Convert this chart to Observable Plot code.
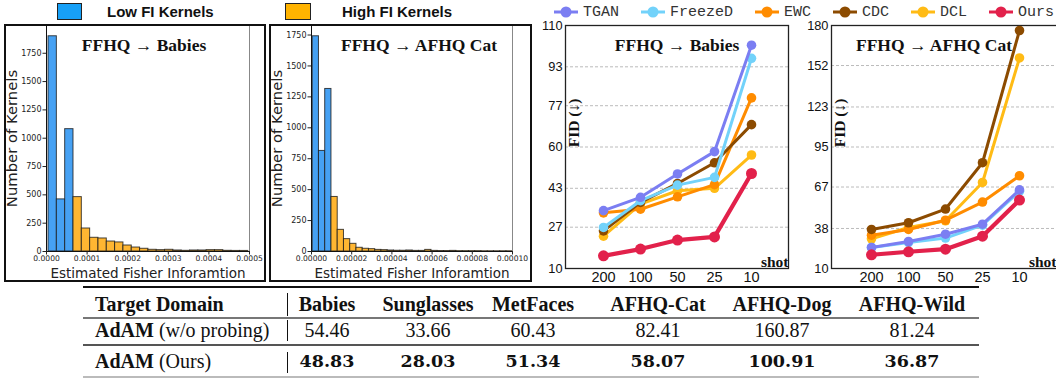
<!DOCTYPE html>
<html><head><meta charset="utf-8">
<script src="https://cdn.jsdelivr.net/npm/d3@7"></script>
<script src="https://cdn.jsdelivr.net/npm/@observablehq/plot@0.6"></script>
<style>
html,body{margin:0;padding:0;background:#fff;}
#root{position:relative;width:1056px;height:378px;overflow:hidden;background:#fff;}
#root svg{display:block;overflow:visible;}
.box{position:absolute;border:2px solid #111;box-sizing:border-box;pointer-events:none;}
.hleg{position:absolute;font-family:"Liberation Sans",Arial,sans-serif;font-weight:bold;font-size:15px;color:#111;line-height:18px;white-space:nowrap;}
.hbox{position:absolute;border:1.5px solid #222;box-sizing:border-box;}
.leg{position:absolute;display:flex;align-items:center;font-family:"Liberation Mono",monospace;font-size:15px;color:#333;white-space:nowrap;}
.leg .it{display:flex;align-items:center;margin-right:20px;}
.leg svg{margin-right:3px;}
.cell{position:absolute;white-space:nowrap;font-family:"Liberation Serif","Times New Roman",serif;font-size:20px;color:#111;transform:translate(-50%,-50%);line-height:22px;}
.lcell{transform:translate(0,-50%);}
.b{font-weight:bold;}
.num2{font-family:"DejaVu Serif",serif;font-weight:bold;font-size:17.5px;}
.rule{position:absolute;}
</style></head><body><div id="root"></div>
<script>
// ---------------- data ----------------
// Histogram 1: FFHQ -> Babies
const hist1Counts = [1900, 460, 1080, 480, 203, 121, 115, 88, 80, 53, 35, 24, 15, 12, 15, 9, 6, 9, 9, 12, 12, 6, 5, 5];
const hist1Start = 0.000005;
const hist1BinWidth = 0.0000205;
const hist1LowBins = 3;
const hist1XTicks = [0, 0.0001, 0.0002, 0.0003, 0.0004, 0.0005];
// Histogram 2: FFHQ -> AFHQ Cat
const hist2Counts = [1740, 813, 1314, 441, 175, 100, 62, 30, 22, 19, 13, 11, 8, 6, 6, 8, 5, 5, 13, 5, 4, 4, 5, 3, 3, 3, 3, 2, 2, 2, 2, 2];
const hist2Start = 0.0000006;
const hist2BinWidth = 0.00000311;
const hist2LowBins = 3;
const hist2XTicks = [0, 0.00002, 0.00004, 0.00006, 0.00008, 0.0001];
const histYTicks = [0, 250, 500, 750, 1000, 1250, 1500, 1750];

// Line charts
const shots = ["200", "100", "50", "25", "10"];
const methods = ["TGAN", "FreezeD", "EWC", "CDC", "DCL", "Ours"];
const methodColors = ["#7b7ef2", "#72d2fa", "#ff8c00", "#8c4b00", "#ffbb15", "#e2214b"];
const drawOrder = ["DCL", "EWC", "CDC", "FreezeD", "TGAN", "Ours"];

const babiesTGAN    = [33.8, 39.3, 48.9, 58.1, 101.9];
const babiesFreezeD = [26.9, 37.9, 44.3, 47.5, 96.5];
const babiesEWC     = [32.9, 34.4, 39.5, 44.5, 80.2];
const babiesCDC     = [25.5, 37.2, 45.0, 53.5, 69.2];
const babiesDCL     = [23.3, 36.5, 42.0, 43.0, 56.7];
const babiesOurs    = [15.2, 18.0, 21.7, 23.0, 49.1];
const babiesYTicks  = [10, 27, 43, 60, 77, 93, 110];

const catTGAN    = [24.7, 28.9, 34.0, 41.0, 65.0];
const catFreezeD = [24.7, 28.2, 31.3, 40.3, 64.0];
const catEWC     = [33.3, 37.3, 43.8, 56.5, 74.9];
const catCDC     = [37.3, 42.0, 51.6, 84.0, 176.5];
const catDCL     = [30.8, 38.7, 43.4, 70.2, 157.3];
const catOurs    = [19.6, 21.7, 23.5, 32.6, 57.9];
const catYTicks  = [10, 38, 67, 95, 123, 152, 180];

// Table
const tableColumns = ["Babies", "Sunglasses", "MetFaces", "AFHQ-Cat", "AFHQ-Dog", "AFHQ-Wild"];
const tableNoProbing = ["54.46", "33.66", "60.43", "82.41", "160.87", "81.24"];
const tableOurs = ["48.83", "28.03", "51.34", "58.07", "100.91", "36.87"];

// ---------------- layout helpers ----------------
const root = document.getElementById("root");
function place(el, left, top) {
  el.style.position = "absolute";
  el.style.left = left + "px";
  el.style.top = top + "px";
  root.appendChild(el);
  return el;
}
function div(cls, html, left, top, extra) {
  const d = document.createElement("div");
  d.className = cls;
  d.innerHTML = html;
  place(d, left, top);
  if (extra) Object.assign(d.style, extra);
  return d;
}

const BAR_BLUE = "#46a1f3", BAR_ORANGE = "#ffb632";

function histogram(counts, start, bw, lowBins, xTicks, xFmt, yMax, xMax, title, width, mL, mR, titleDx) {
  const bins = counts.map((c, i) => ({x1: start + i * bw, x2: start + (i + 1) * bw, y: c, low: i < lowBins}));
  return Plot.plot({
    width, height: 258,
    marginLeft: mL, marginRight: mR, marginTop: 1, marginBottom: 31,
    x: {domain: [0, xMax], label: null},
    y: {domain: [0, yMax], label: null},
    style: {fontFamily: "DejaVu Sans", color: "#222", background: "transparent"},
    marks: [
      Plot.rectY(bins.filter(d => d.low), {x1: "x1", x2: "x2", y: "y", fill: BAR_BLUE, stroke: "#1a1a1a", strokeOpacity: 0.8, strokeWidth: 1}),
      Plot.rectY(bins.filter(d => !d.low), {x1: "x1", x2: "x2", y: "y", fill: BAR_ORANGE, stroke: "#1a1a1a", strokeOpacity: 0.8, strokeWidth: 1}),
      Plot.frame({stroke: "#888", strokeWidth: 1}),
      Plot.ruleX([0], {stroke: "#111", strokeWidth: 1}),
      Plot.ruleY([0], {stroke: "#111", strokeWidth: 1}),
      Plot.axisX({ticks: xTicks, tickFormat: xFmt, tickSize: 3.5, tickPadding: 1, fontSize: 7.6, label: null}),
      Plot.axisY({ticks: histYTicks, tickFormat: d => String(d), tickSize: 3.5, tickPadding: 1.5, fontSize: 8, label: null}),
      Plot.text([title], {text: d => d, frameAnchor: "top", dy: 20, dx: titleDx, lineAnchor: "middle", fontFamily: "Liberation Serif", fontWeight: "bold", fontSize: 17.5, fill: "#111"}),
      Plot.text(["Estimated Fisher Inforamtion"], {text: d => d, frameAnchor: "bottom", dy: 22, lineAnchor: "middle", fontSize: 13.5, fill: "#222"}),
      Plot.text(["Number of Kernels"], {text: d => d, frameAnchor: "left", dx: -34, rotate: -90, textAnchor: "middle", lineAnchor: "middle", fontSize: 14.8, fill: "#222"})
    ]
  });
}

function lineChart(seriesMap, yTicks, title, width, mL, mR, titleDx, shotDx) {
  const rows = [];
  for (const m of methods) seriesMap[m].forEach((v, i) => rows.push({method: m, shot: shots[i], fid: v}));
  const marks = [
    Plot.gridY(yTicks.slice(1, -1), {stroke: "#aaa", strokeOpacity: 1, strokeWidth: 0.8, strokeDasharray: "3,2"}),
    Plot.frame({stroke: "#222", strokeWidth: 1.3})
  ];
  for (const m of drawOrder) {
    const c = methodColors[methods.indexOf(m)];
    const data = rows.filter(d => d.method === m);
    const ours = m === "Ours";
    marks.push(Plot.line(data, {x: "shot", y: "fid", stroke: c, strokeWidth: ours ? 4.2 : 3}));
    marks.push(Plot.dot(data, {x: "shot", y: "fid", fill: c, r: ours ? 5.5 : 4.8}));
  }
  marks.push(
    Plot.axisX({tickSize: 0, tickPadding: 3, fontSize: 14.5, fontFamily: "Liberation Sans", label: null}),
    Plot.axisY({ticks: yTicks, tickFormat: d => String(d), tickSize: 0, tickPadding: 3, fontSize: 12.8, fontFamily: "Liberation Sans", label: null}),
    Plot.text([title], {text: d => d, frameAnchor: "top", dy: 20, dx: titleDx, lineAnchor: "middle", fontFamily: "Liberation Serif", fontWeight: "bold", fontSize: 17.5, fill: "#111"}),
    Plot.text(["FID (↓)"], {text: d => d, frameAnchor: "left", dx: 9, dy: -24, rotate: -90, textAnchor: "middle", lineAnchor: "middle", fontFamily: "Liberation Serif", fontWeight: "bold", fontSize: 15.5, fill: "#111"}),
    Plot.text(["shot"], {text: d => d, frameAnchor: "bottom-right", dx: shotDx, dy: -2, textAnchor: "end", lineAnchor: "bottom", fontFamily: "Liberation Serif", fontWeight: "bold", fontSize: 15.5, fill: "#111"})
  );
  return Plot.plot({
    width, height: 270,
    marginLeft: mL, marginRight: mR, marginTop: 5, marginBottom: 22,
    x: {type: "point", domain: shots, padding: 1, label: null},
    y: {domain: [yTicks[0], yTicks[yTicks.length - 1]], label: null},
    style: {fontFamily: "Liberation Sans", color: "#111", background: "transparent"},
    marks
  });
}

// ---------------- histograms ----------------
place(histogram(hist1Counts, hist1Start, hist1BinWidth, hist1LowBins, hist1XTicks, d3.format(".4f"), 1995, 0.0005, "FFHQ → Babies", 262, 42, 17, -4), 4, 24);
div("box", "", 4, 24, {width: "262px", height: "258px"});
place(histogram(hist2Counts, hist2Start, hist2BinWidth, hist2LowBins, hist2XTicks, d3.format(".5f"), 1827, 0.0001, "FFHQ → AFHQ Cat", 263, 42, 20, 7), 269, 24);
div("box", "", 269, 24, {width: "263px", height: "258px"});

// histogram legends
div("hbox", "", 57, 3, {width: "25px", height: "17px", background: "#17a0f7"});
div("hleg", "Low FI Kernels", 107, 3);
div("hbox", "", 285, 3, {width: "26px", height: "17px", background: "#ffb300"});
div("hleg", "High FI Kernels", 342, 3);

// ---------------- line charts ----------------
const babiesMap = {TGAN: babiesTGAN, FreezeD: babiesFreezeD, EWC: babiesEWC, CDC: babiesCDC, DCL: babiesDCL, Ours: babiesOurs};
const catMap = {TGAN: catTGAN, FreezeD: catFreezeD, EWC: catEWC, CDC: catCDC, DCL: catDCL, Ours: catOurs};
place(lineChart(babiesMap, babiesYTicks, "FFHQ → Babies", 262, 35, 4, 0, 0), 530, 20);
place(lineChart(catMap, catYTicks, "FFHQ → AFHQ Cat", 265, 36, 2, -11, -2), 795, 20);

// line legend
const leg = div("leg", "", 552, 3, {height: "18px"});
methods.forEach((m, i) => {
  const it = document.createElement("div");
  it.className = "it";
  const c = methodColors[i];
  it.innerHTML = `<svg width="28" height="18"><line x1="2" y1="9" x2="26" y2="9" stroke="${c}" stroke-width="3"/><circle cx="14" cy="9" r="5.5" fill="${c}"/></svg><span>${m}</span>`;
  leg.appendChild(it);
});

// ---------------- table ----------------
const colCenters = [327, 428, 533, 658, 782, 912];
const tblLeft = 83, tblRight = 979;
function rule(top, h, color) { div("rule", "", tblLeft, top, {width: (tblRight - tblLeft) + "px", height: h + "px", background: color}); }
rule(286, 2, "#111");
rule(317, 1.5, "#777");
rule(344, 2, "#555");
rule(376, 1.5, "#bbb");
// vertical separator segments
[[293, 316], [320, 341], [352, 373]].forEach(([a, b]) => div("rule", "", 287, a, {width: "1.3px", height: (b - a) + "px", background: "#111"}));
const rowY = [304, 330, 361];
div("cell lcell b", "Target Domain", 95, rowY[0]);
div("cell lcell", "<b>AdAM</b> (w/o probing)", 95, rowY[1]);
div("cell lcell", "<b>AdAM</b> (Ours)", 95, rowY[2]);
tableColumns.forEach((c, i) => {
  div("cell b", c, colCenters[i], rowY[0]);
  div("cell", tableNoProbing[i], colCenters[i], rowY[1]);
  div("cell num2", tableOurs[i], colCenters[i], rowY[2]);
});
</script></body></html>
